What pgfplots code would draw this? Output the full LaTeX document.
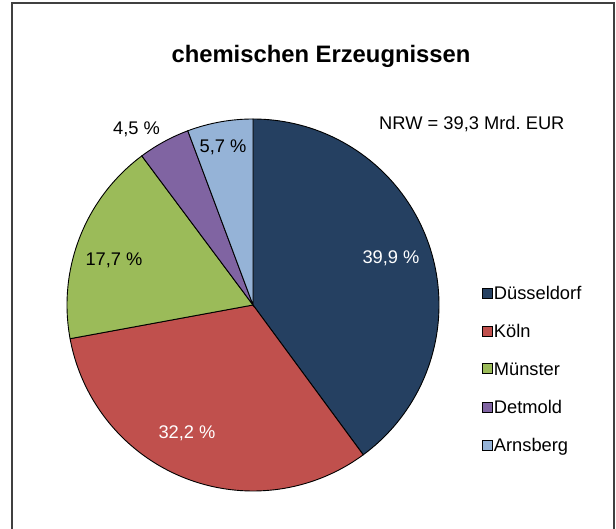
\documentclass[border=0pt]{standalone}
\usepackage{pgfplots}
\pgfplotsset{compat=1.18}
\usepackage{fontspec}
\setmainfont{Liberation Sans}
\definecolor{cDus}{RGB}{37,64,97}
\definecolor{cKoe}{RGB}{192,80,77}
\definecolor{cMue}{RGB}{155,187,89}
\definecolor{cDet}{RGB}{128,100,162}
\definecolor{cArn}{RGB}{149,179,215}
% shares in percent (Düsseldorf, Köln, Münster, Detmold, Arnsberg)
\def\sDus{39.9}
\def\sKoe{32.2}
\def\sMue{17.7}
\def\sDet{4.5}
\def\sArn{5.7}
\pgfmathsetmacro\aA{90}
\pgfmathsetmacro\aB{\aA-3.6*\sDus}
\pgfmathsetmacro\aC{\aB-3.6*\sKoe}
\pgfmathsetmacro\aD{\aC-3.6*\sMue}
\pgfmathsetmacro\aE{\aD-3.6*\sDet}
\pgfmathsetmacro\aF{\aE-3.6*\sArn}
\newcommand{\lbl}{\fontsize{18.3bp}{22bp}\selectfont}
\frenchspacing
\begin{document}
\begin{tikzpicture}[x=1bp,y=1bp]
\useasboundingbox (0,0) rectangle (616,529);
\draw[line width=1.6bp, black!75] (12,-2) -- (12,526) -- (614,526) -- (614,-2);
\node[font=\bfseries\fontsize{23.8bp}{28bp}\selectfont] at (321,473) {chemischen Erzeugnissen};
\begin{axis}[
  at={(253bp,224bp)}, anchor=center,
  scale only axis, width=372bp, height=372bp,
  xmin=-1, xmax=1, ymin=-1, ymax=1,
  hide axis, clip=false,
  every axis plot/.append style={draw=black, line width=0.9bp, mark=none, samples=90, variable=\t},
  legend image code/.code={\draw[#1, line width=0.9bp] (0bp,1.5bp) rectangle (10bp,11.5bp);},
  legend style={draw=none, fill=none, at={(1.115,0.553)}, anchor=north west,
    font=\lbl, row sep=21.4bp, inner sep=0pt, column sep=0pt,
    nodes={inner sep=1bp, anchor=base west}},
  legend cell align=left,
]
\addplot[fill=cDus, domain=\aB:\aA] ({cos(\t)},{sin(\t)}) -- (axis cs:0,0) -- cycle;
\addlegendentry{Düsseldorf}
\addplot[fill=cKoe, domain=\aC:\aB] ({cos(\t)},{sin(\t)}) -- (axis cs:0,0) -- cycle;
\addlegendentry{Köln}
\addplot[fill=cMue, domain=\aD:\aC] ({cos(\t)},{sin(\t)}) -- (axis cs:0,0) -- cycle;
\addlegendentry{Münster}
\addplot[fill=cDet, domain=\aE:\aD] ({cos(\t)},{sin(\t)}) -- (axis cs:0,0) -- cycle;
\addlegendentry{Detmold}
\addplot[fill=cArn, domain=\aF:\aE] ({cos(\t)},{sin(\t)}) -- (axis cs:0,0) -- cycle;
\addlegendentry{Arnsberg}
\end{axis}
\node[font=\lbl, text=white, anchor=base] at (391,265.5) {39,9 \%};
\node[font=\lbl, text=white, anchor=base] at (187,90.5) {32,2 \%};
\node[font=\lbl, anchor=base] at (114,263.5) {17,7 \%};
\node[font=\lbl, anchor=base] at (136.5,394) {4,5 \%};
\node[font=\lbl, anchor=base] at (223,376) {5,7 \%};
\node[font=\lbl, anchor=base west, inner sep=0pt] at (379,399) {NRW = 39,3 Mrd. EUR};
\end{tikzpicture}
\end{document}
